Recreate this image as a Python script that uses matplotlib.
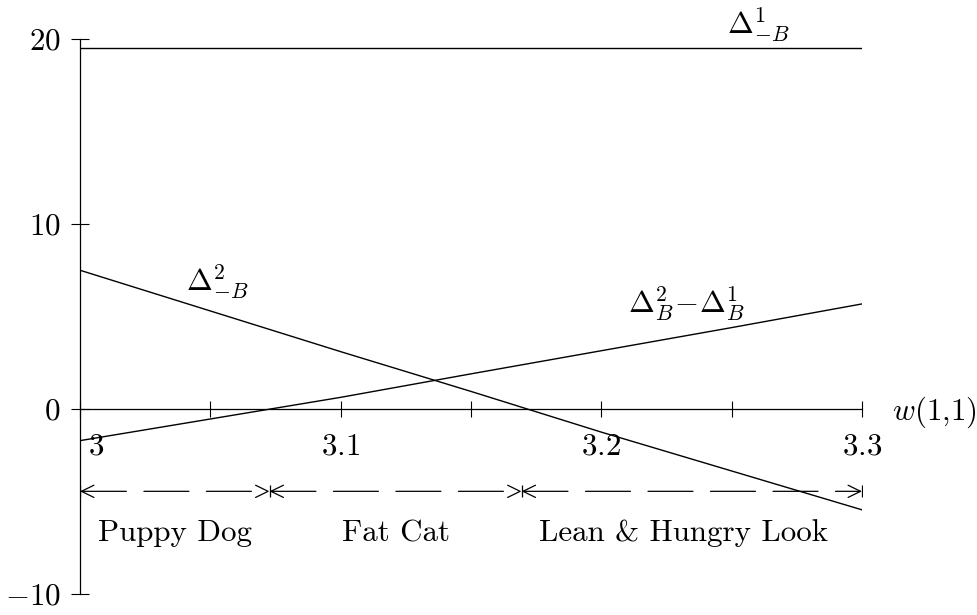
import numpy as np
import matplotlib
matplotlib.use('Agg')
import matplotlib.pyplot as plt
from matplotlib.transforms import ScaledTranslation

# values
w_vals = [3.0, 3.05, 3.1, 3.15, 3.2, 3.25, 3.3]
delta1_mB = [19.5, 19.5, 19.5, 19.5, 19.5, 19.5, 19.5]
delta2_mB = [7.5, 5.3, 3.1, 0.95, -1.25, -3.35, -5.45]
diff_B = [-1.71, -0.54, 0.63, 1.9, 3.15, 4.4, 5.68]

region_bounds = [3.0, 3.0727, 3.1694, 3.3]
region_names = ['Puppy Dog', 'Fat Cat', 'Lean & Hungry Look']
arrow_y = -4.45

x_major = [3.0, 3.1, 3.2, 3.3]
x_major_labels = ['$3$', '$3.1$', '$3.2$', '$3.3$']
x_minor = [3.05, 3.15, 3.25]
y_ticks = [-10, 0, 10, 20]
y_labels = ['$-10$', '$0$', '$10$', '$20$']

plt.rcParams['font.family'] = 'serif'
plt.rcParams['font.serif'] = ['cmr10']
plt.rcParams['mathtext.fontset'] = 'cm'
plt.rcParams['axes.unicode_minus'] = False

fs = 22.3
fig = plt.figure(figsize=(9.77, 6.15), dpi=100)
ax = fig.add_axes([80/977., 21/615., (862-80)/977., (594-39)/615.])

# lines
ax.plot(w_vals, delta1_mB, color='k', lw=1.0)
ax.plot(w_vals, delta2_mB, color='k', lw=1.0)
ax.plot(w_vals, diff_B, color='k', lw=1.0)

ax.set_xlim(3.0, 3.3)
ax.set_ylim(-10, 20)

# axes lines
ax.spines['top'].set_visible(False)
ax.spines['right'].set_visible(False)
ax.spines['bottom'].set_position(('data', 0))
for s in ['left', 'bottom']:
    ax.spines[s].set_linewidth(0.9)

ax.set_xticks(x_major, labels=x_major_labels)
ax.set_xticks(x_minor, minor=True)
ax.set_yticks(y_ticks, labels=y_labels)
ax.tick_params(axis='x', which='both', direction='inout', length=11.5,
               width=0.8, pad=11, labelsize=fs)
ax.tick_params(axis='y', direction='inout', length=13, width=0.8,
               pad=7.5, labelsize=fs)

# nudge the "3" away from the y axis
lab0 = ax.get_xticklabels()[0]
lab0.set_horizontalalignment('left')
lab0.set_transform(lab0.get_transform() + ScaledTranslation(6/72., 0, fig.dpi_scale_trans))

# curve labels
ax.text(3.260, 20.72, r'$\Delta^1_{-B}$', fontsize=fs, ha='center', va='center')
ax.text(3.0526, 6.83, r'$\Delta^2_{-B}$', fontsize=fs, ha='center', va='center')
ax.text(3.2325, 5.64, r'$\Delta^2_B\!-\!\Delta^1_B$', fontsize=fs, ha='center', va='center')
ax.text(3.3115, -0.15, r'$w(1{,}1)$', fontsize=fs, ha='left', va='center')

# region arrows
label_shift = [0.0, 0.0, -0.003]
for i in range(len(region_names)):
    x0 = region_bounds[i]
    x1 = region_bounds[i + 1]
    ax.annotate('', xy=(x1, arrow_y), xytext=(x0, arrow_y),
                arrowprops=dict(arrowstyle='<->,head_length=0.45,head_width=0.22',
                                mutation_scale=20, color='k', lw=0.9,
                                linestyle=(0, (36, 14)),
                                shrinkA=0, shrinkB=0))
    ax.text((x0 + x1) / 2. + label_shift[i], -7.15, region_names[i], fontsize=fs,
            ha='center', va='baseline')
ax.plot(region_bounds, [arrow_y] * len(region_bounds), 'k|', ms=8, mew=0.9)

plt.savefig('out.png', dpi=100)
